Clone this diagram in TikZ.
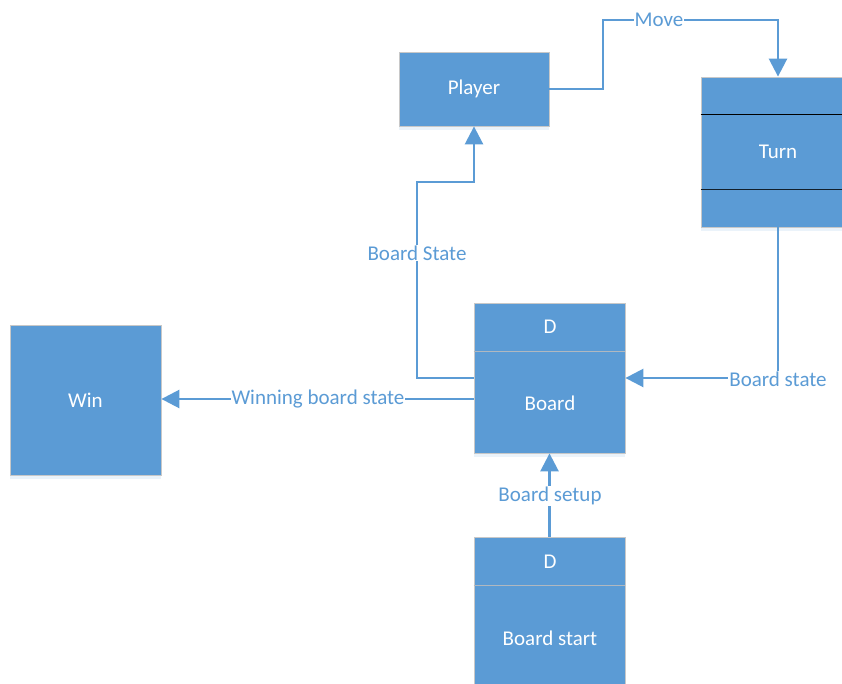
\documentclass[tikz,border=0pt]{standalone}
\usepackage{fontspec}
\setmainfont{Carlito}
\usetikzlibrary{arrows.meta,calc,shadows}
\definecolor{boxblue}{HTML}{5B9BD5}
\definecolor{edgegray}{HTML}{C8C8C8}
\definecolor{divgray}{HTML}{B0B8C0}
\tikzset{
  box/.style={draw=edgegray, line width=0.8pt, fill=boxblue, inner sep=0pt,
    drop shadow={shadow xshift=0pt, shadow yshift=-4pt, opacity=0.12, fill=boxblue}},
  boxtext/.style={text=white, font=\fontsize{21}{25}\selectfont, inner sep=0pt},
  conn/.style={draw=boxblue, line width=2.6pt, -{Triangle[length=18pt,width=18pt]}},
  lbl/.style={fill=white, text=boxblue, font=\fontsize{21}{25}\selectfont, inner sep=1pt},
}
\begin{document}
\begin{tikzpicture}[x=1pt,y=-1pt]
\useasboundingbox (0,0) rectangle (842,684);
\clip (0,0) rectangle (842,684);

% boxes
\node[box, minimum width=150pt, minimum height=74pt] (player) at (474,89) {};
\node[boxtext] (playert) at (player.center) {Player};

\node[box, minimum width=154pt, minimum height=150pt] (turn) at (778,152) {};
\draw[black, line width=1pt] (turn.west |- 0,115) -- (turn.east |- 0,115);
\draw[black!80!boxblue, line width=1pt] (turn.west |- 0,190) -- (turn.east |- 0,190);
\node[boxtext] (turnt) at (turn.center) {Turn};

\node[box, minimum width=151pt, minimum height=150pt] (board) at (549.5,378) {};
\draw[divgray, line width=1pt] (board.west |- 0,351) -- (board.east |- 0,351);
\node[boxtext] (boardd) at (550,327) {D};
\node[boxtext] (boardt) at (550,403) {Board};

\node[box, minimum width=151pt, minimum height=170pt] (bstart) at (549.5,622) {};
\draw[divgray, line width=1pt] (bstart.west |- 0,585) -- (bstart.east |- 0,585);
\node[boxtext] (bstartd) at (550,562) {D};
\node[boxtext] (bstartt) at (550,638) {Board start};

\node[box, minimum width=151pt, minimum height=150pt] (win) at (85.5,400) {};
\node[boxtext] (wint) at (win.center) {Win};

% connectors
\draw[conn] (player.east) -- (603,89) -- (603,20) -- (turn.north |- 0,20) -- (turn.north);
\node[lbl] (movel) at (659,20) {Move};

\draw[conn] (turn.south) |- (board.east);
\node[lbl] (bstatel) at (778,379) {Board state};

\draw[conn] (board.west) -- (417,378) -- (417,182) -- (player.south |- 0,182) -- (player.south);
\node[lbl] (bStatel) at (417,253) {Board State};

\draw[conn] ([yshift=-21pt]board.west) -- ([yshift=1pt]win.east);
\node[lbl] (winl) at (318,399) {Winning board state};

\draw[conn] (bstart.north) -- (board.south);
\node[lbl] (setupl) at (550,496) {Board setup};
\end{tikzpicture}
\end{document}
